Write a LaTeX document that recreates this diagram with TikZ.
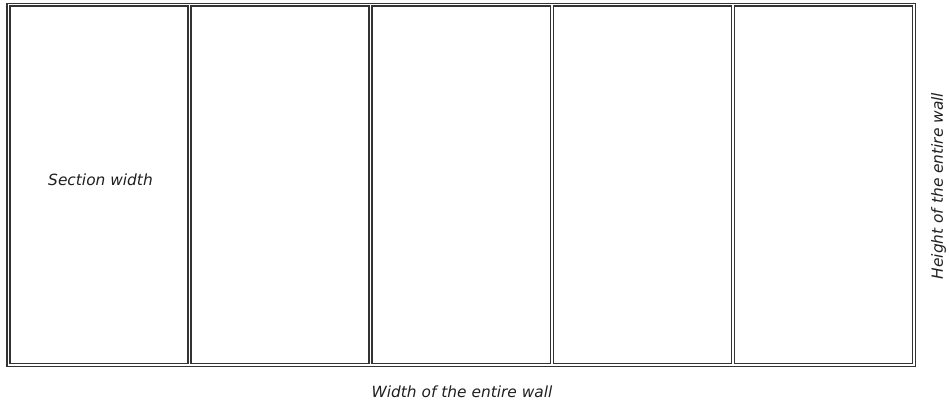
\documentclass[tikz,border=0pt]{standalone}
\usepackage{fontspec}
\setmainfont{DejaVu Sans}
\begin{document}
\begin{tikzpicture}[x=1pt,y=-1pt,
  wall/.style={draw=black!80, line width=1.4pt},
  section/.style={draw=black!80, line width=1.5pt},
  lbl/.style={font=\itshape\fontsize{15.4}{18}\selectfont, text=black!88, inner sep=0pt}]
\useasboundingbox (0,0) rectangle (949,405);
\draw[wall] (6.8,3.5) rectangle (915.4,366.3);
\draw[section] (10,6.2) rectangle (188.1,363.3);
\draw[section] (191.1,6.2) rectangle (369.2,363.3);
\draw[section] (372.2,6.2) rectangle (550.3,363.3);
\draw[section] (553.3,6.2) rectangle (731.4,363.3);
\draw[section] (734.4,6.2) rectangle (912.5,363.3);
\node[lbl] (sw) at (100.5,179.5) {Section width};
\node[lbl] (ww) at (462,392) {Width of the entire wall};
\node[lbl, rotate=90] (hw) at (938.5,186) {Height of the entire wall};
\end{tikzpicture}
\end{document}
